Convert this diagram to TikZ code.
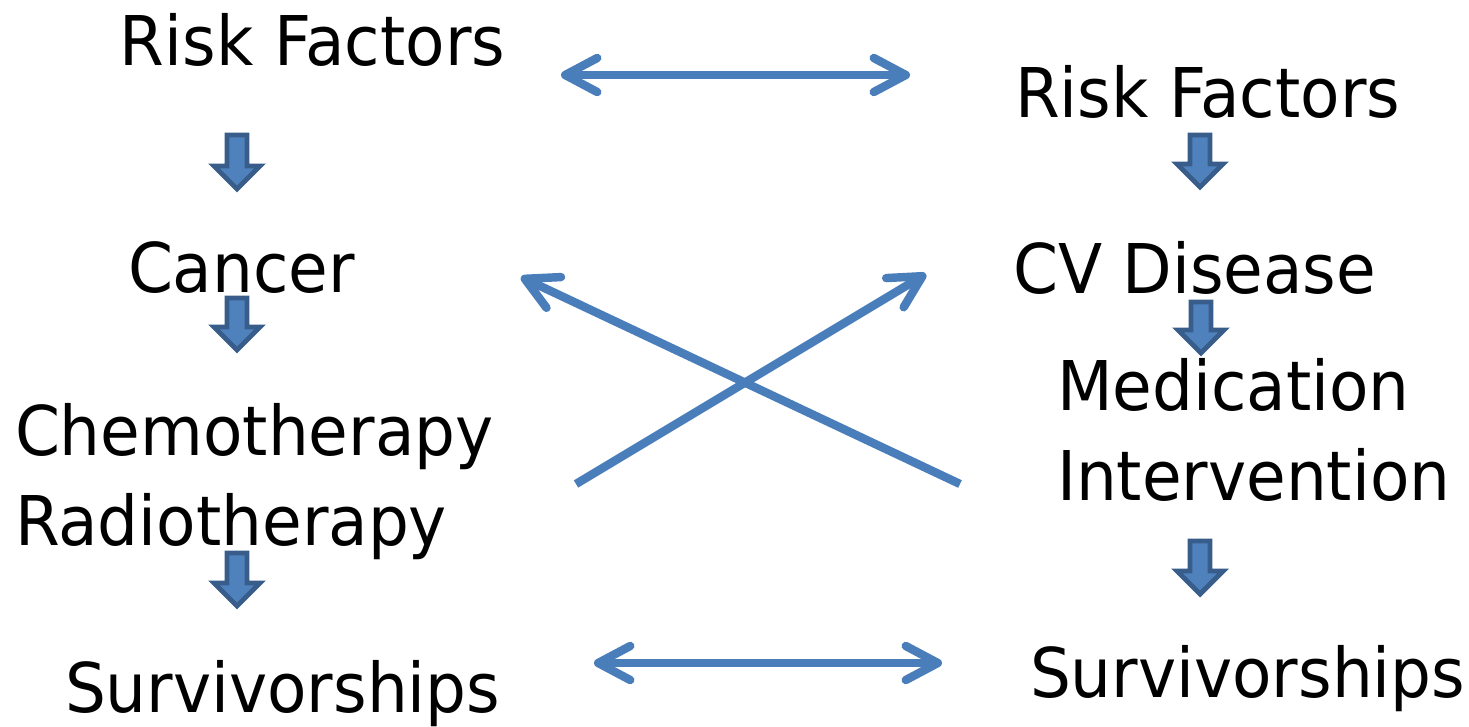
\documentclass[tikz,border=0pt]{standalone}
\usepackage{fontspec}
\setmainfont{DejaVu Sans}[FakeStretch=0.94]
\usetikzlibrary{arrows.meta}
\definecolor{lineblue}{HTML}{4A7EBB}
\definecolor{blkfill}{HTML}{4F81BD}
\definecolor{blkdraw}{HTML}{385D8A}
\tikzset{
  lbl/.style={anchor=base west,inner sep=0pt,outer sep=0pt,font=\fontsize{19.5}{23}\selectfont},
  conn/.style={draw=lineblue,line width=2.4pt,
    {Straight Barb[length=3.2mm,width=3.4mm,round]}-{Straight Barb[length=3.2mm,width=3.4mm,round]}},
  conn1/.style={draw=lineblue,line width=2.4pt,
    -{Straight Barb[length=3.2mm,width=3.4mm,round]}},
  blk/.style={fill=blkfill,draw=blkdraw,line width=1.4pt,line join=miter}
}
\newcommand\downblk[3]{% cx, top y, bottom y
  \draw[blk] (#1-10,#2) -- (#1+10,#2) -- (#1+10,#3-23) -- (#1+23,#3-23) -- (#1,#3)
    -- (#1-23,#3-23) -- (#1-10,#3-23) -- cycle;}
\begin{document}
\begin{tikzpicture}[x=0.01cm,y=-0.01cm]
\useasboundingbox (0,0) rectangle (1469,727);
% left column
\node[lbl] (rfL) at (120,65) {Risk Factors};
\node[lbl] (canc) at (128,292) {Cancer};
\node[lbl] (chemo) at (15,455) {Chemotherapy};
\node[lbl] (radio) at (15,545) {Radiotherapy};
\node[lbl] (survL) at (65,712) {Survivorships};
% right column
\node[lbl] (rfR) at (1015,117) {Risk Factors};
\node[lbl] (cvd) at (1013,293) {CV Disease};
\node[lbl] (med) at (1057,410) {Medication};
\node[lbl] (interv) at (1057,500) {Intervention};
\node[lbl] (survR) at (1030,697) {Survivorships};
% block arrows
\downblk{237}{135}{189}
\downblk{237}{298}{350}
\downblk{237}{553}{606}
\downblk{1200}{135}{187}
\downblk{1201}{302}{353}
\downblk{1200}{541}{594}
% connector end points
\coordinate (t1) at (561,75);
\coordinate (t2) at (910,75);
\coordinate (b1) at (594,663);
\coordinate (b2) at (942,663);
\coordinate (x1s) at (576,484);
\coordinate (x1e) at (926,274);
\coordinate (x2s) at (960,484);
\coordinate (x2e) at (521,277);
\draw[conn] (t1) -- (t2);
\draw[conn] (b1) -- (b2);
\draw[conn1] (x1s) -- (x1e);
\draw[conn1] (x2s) -- (x2e);
\end{tikzpicture}
\end{document}
